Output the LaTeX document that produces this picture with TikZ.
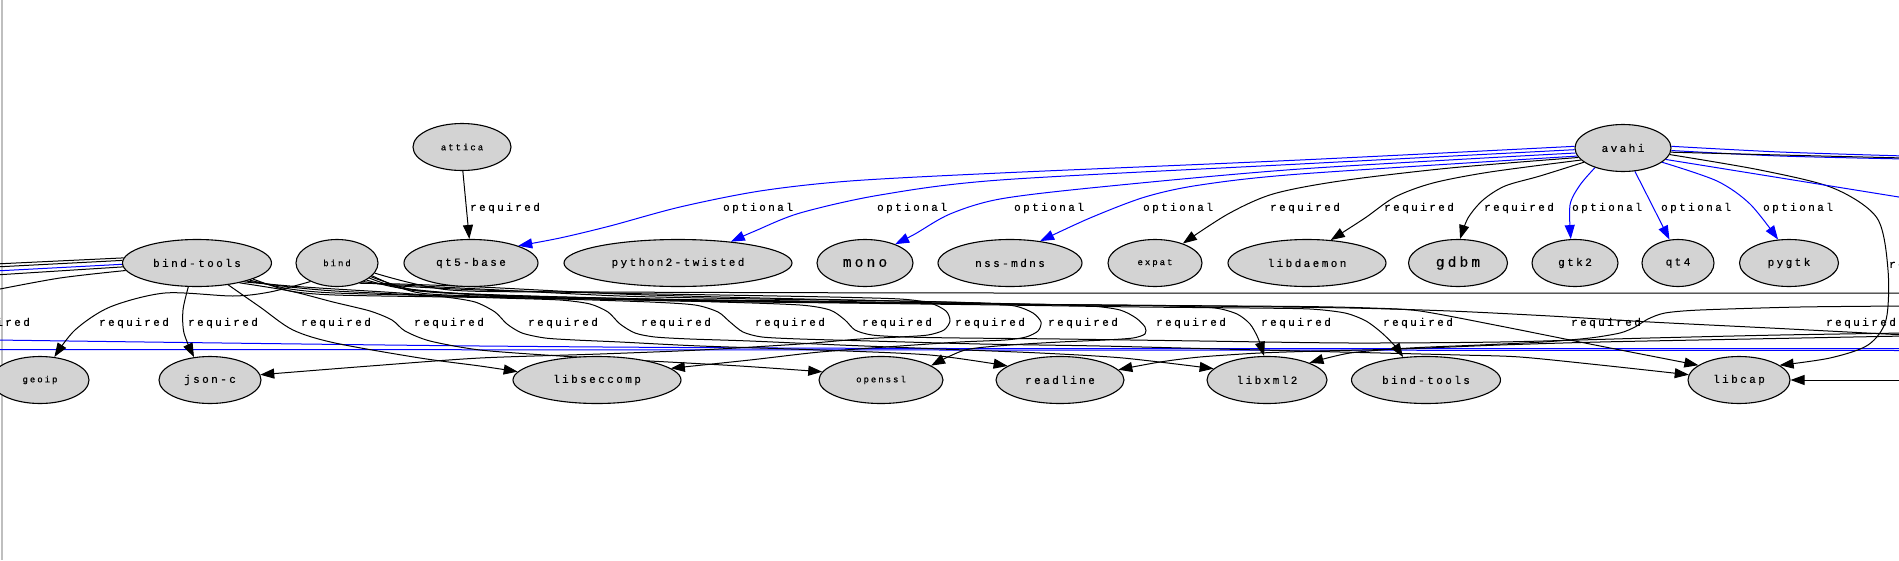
\documentclass[tikz,border=0pt]{standalone}
\usepackage{fontspec}
\usetikzlibrary{shapes.geometric,arrows.meta}
\newfontfamily\gvmono{Liberation Mono}[LetterSpace=22, FakeBold=0.4]
\newcommand\fnorm{\gvmono\fontsize{11}{13}\selectfont}
\newcommand\fsmall{\gvmono\fontsize{9}{11}\selectfont}
\newcommand\flarge{\gvmono\fontsize{14.5}{17}\selectfont}
\definecolor{lgray}{HTML}{D3D3D3}
\definecolor{gvblue}{RGB}{0,0,255}
\pgfdeclarelayer{bg}
\pgfsetlayers{bg,main}
\tikzset{
  pkg/.style={ellipse, draw=black, fill=lgray, line width=1.1pt, inner sep=0pt, minimum height=47pt, font=\fnorm},
  req/.style={draw=black, line width=1pt, -{Triangle[length=14pt,width=10pt]}},
  opt/.style={draw=gvblue, line width=1pt, -{Triangle[length=14pt,width=10pt]}},
  reqn/.style={draw=black, line width=1pt},
  optn/.style={draw=gvblue, line width=1pt},
  lbl/.style={font=\fnorm, inner sep=0pt}
}
\begin{document}
\begin{tikzpicture}[x=1pt,y=-1pt]
\useasboundingbox (0,0) rectangle (1899,560);
% nodes
\node[pkg, font=\fsmall, minimum width=98pt] (attica) at (462,147) {attica};
\node[pkg, minimum width=96pt] (avahi) at (1623,148) {avahi};
\node[pkg, minimum width=149pt] (bt) at (197,263) {bind-tools};
\node[pkg, font=\fsmall, minimum width=82pt] (bind) at (337,263) {bind};
\node[pkg, minimum width=134pt] (qtfive) at (471,263) {qt5-base};
\node[pkg, minimum width=228pt] (pytw) at (678,263) {python2-twisted};
\node[pkg, font=\flarge, minimum width=96pt] (mono) at (865,263) {mono};
\node[pkg, minimum width=144pt] (nss) at (1010,263) {nss-mdns};
\node[pkg, font=\fsmall, minimum width=94pt] (expat) at (1155,263) {expat};
\node[pkg, minimum width=158pt] (libd) at (1307,263) {libdaemon};
\node[pkg, font=\flarge, minimum width=99pt] (gdbm) at (1458,263) {gdbm};
\node[pkg, minimum width=86pt] (gtk) at (1575,263) {gtk2};
\node[pkg, minimum width=72pt] (qtfour) at (1678,263) {qt4};
\node[pkg, minimum width=99pt] (pygtk) at (1789,263) {pygtk};
\node[pkg, font=\fsmall, minimum width=98pt] (geoip) at (40,380) {geoip};
\node[pkg, minimum width=102pt] (jsonc) at (210,380) {json-c};
\node[pkg, minimum width=168pt] (seccomp) at (597,380) {libseccomp};
\node[pkg, font=\fsmall, minimum width=124pt] (openssl) at (881,380) {openssl};
\node[pkg, minimum width=128pt] (readline) at (1060,380) {readline};
\node[pkg, minimum width=120pt] (xml) at (1267,380) {libxml2};
\node[pkg, minimum width=149pt] (btwo) at (1426,380) {bind-tools};
\node[pkg, minimum width=102pt] (libcap) at (1739,380) {libcap};
% off-picture ends
\coordinate (offLa) at (-5,264);
\coordinate (offLb) at (-5,267);
\coordinate (offLc) at (-5,271);
\coordinate (offLd) at (-5,275);
\coordinate (offLe) at (-5,290);
\coordinate (offRa) at (1905,293);
\coordinate (offRb) at (1905,306);
\coordinate (offRc) at (1905,333);
\coordinate (offRd) at (1905,336);
\coordinate (offRe) at (1905,335);
\coordinate (offRf) at (1905,380);
\coordinate (offAa) at (1905,156);
\coordinate (offAb) at (1905,159);
\coordinate (offAc) at (1905,158);
\coordinate (offAd) at (1905,198);
\coordinate (offBa) at (-5,340);
\coordinate (offBb) at (1905,348.5);
\coordinate (offBc) at (-5,349.5);
\coordinate (offBd) at (1905,350.5);
% labels
\node[lbl] (la1) at (505,208) {required};
\node[lbl] (la2) at (758,208) {optional};
\node[lbl] (la3) at (912,208) {optional};
\node[lbl] (la4) at (1049,208) {optional};
\node[lbl] (la5) at (1178,208) {optional};
\node[lbl] (la6) at (1305,208) {required};
\node[lbl] (la7) at (1419,208) {required};
\node[lbl] (la8) at (1519,208) {required};
\node[lbl] (la9) at (1607,208) {optional};
\node[lbl] (la10) at (1696,208) {optional};
\node[lbl] (la11) at (1798,208) {optional};
\node[lbl] (la12) at (1924,265) {required};
\foreach \lx [count=\i] in {-5,134,223,336,449,563,676,790,897,990,1083,1191,1296,1418,1606,1861}
  \node[lbl] (lm\i) at (\lx,323) {required};
\begin{pgfonlayer}{bg}
\fill[white] (0,0) rectangle (1899,560);
\draw[line width=2pt, color=black!25] (1.5,0) -- (1.5,560);
% blue through-lines
\draw[optn] plot[smooth] coordinates {(offBa) (480,346) (950,348.5) (offBb)};
\draw[optn] (offBc) -- (offBd);
% attica
\draw[req] (attica.272) -- (qtfive.94);
% avahi edges
\draw[opt] plot[smooth] coordinates {(avahi.178) (1300,160) (1000,173) (850,181) (760,191) (680,207) (610,226) (560,238) (qtfive.20)};
\draw[opt] plot[smooth] coordinates {(avahi.182) (1300,164) (1000,180) (880,195) (800,213) (755,231) (pytw.22)};
\draw[opt] plot[smooth] coordinates {(avahi.186) (1300,169) (1100,187) (1000,199) (950,214) (915,234) (mono.32)};
\draw[opt] plot[smooth] coordinates {(avahi.190) (1300,174) (1200,185) (1145,197) (1090,218) (nss.36)};
\draw[req] plot[smooth] coordinates {(avahi.192) (1450,168) (1340,181) (1273,194) (1228,214) (expat.35)};
\draw[req] plot[smooth] coordinates {(avahi.196) (1490,172) (1433,183) (1395,197) (1365,218) (libd.44)};
\draw[req] plot[smooth] coordinates {(avahi.200) (1540,176) (1505,186) (1483,200) (1468,218) (gdbm.85)};
\draw[opt] plot[smooth] coordinates {(avahi.215) (1580,185) (1570,205) (gtk.100)};
\draw[opt] plot[smooth] coordinates {(avahi.297) (1652,205) (qtfour.110)};
\draw[opt] plot[smooth] coordinates {(avahi.340) (1717,181) (1750,204) (pygtk.115)};
\draw[req] plot[smooth] coordinates {(avahi.352) (1760,170) (1833,188) (1877,218) (1888,270) (1886,320) (1868,345) (1830,358) (libcap.20)};
\draw[optn] plot[smooth] coordinates {(avahi.2) (1780,152) (offAa)};
\draw[optn] plot[smooth] coordinates {(avahi.357) (1780,156) (offAb)};
\draw[reqn] plot[smooth] coordinates {(avahi.355) (1780,155) (offAc)};
\draw[optn] (avahi.345) -- (offAd);
% bind-tools to the left
\draw[reqn] (bt.176) -- (offLa);
\draw[reqn] (bt.178) -- (offLb);
\draw[optn] (bt.181) -- (offLc);
\draw[reqn] (bt.183) -- (offLd);
\draw[reqn] plot[smooth] coordinates {(bt.186) (60,278) (offLe)};
% bind-tools edges
\draw[req] plot[smooth] coordinates {(bt.250) (183,310) (184,333) (jsonc.125)};
\draw[req] plot[smooth] coordinates {(bt.325) (260,307) (293,330) (335,343) (420,358) (480,366) (seccomp.174)};
\draw[req] plot[smooth, tension=0.45] coordinates {(bt.335) (290,291) (333,302) (370,311) (392,320) (405,331) (430,341) (480,350) (560,356) (650,361) (740,366) (openssl.172)};
\draw[req] plot[smooth, tension=0.45] coordinates {(bt.338) (290,286) (335,289) (400,293) (445,297) (475,302) (495,312) (507,324) (522,333) (545,338) (575,340) (620,342) (700,346) (820,350) (930,355) (readline.165)};
\draw[req] plot[smooth, tension=0.45] coordinates {(bt.340) (290,287) (335,291) (420,295) (500,298) (560,300) (590,304) (608,312) (620,324) (635,333) (655,337) (690,339) (750,341) (840,345) (940,349) (1040,353) (1123,358) (xml.168)};
\draw[req] plot[smooth, tension=0.45] coordinates {(bt.342) (290,289) (335,293) (450,296) (560,299) (650,302) (695,305) (718,312) (730,322) (743,332) (762,337) (800,339) (870,341) (980,344) (1100,346) (1220,349) (1340,352) (1460,355) (1520,357) (1600,365) (libcap.174)};
\draw[reqn] plot[smooth, tension=0.45] coordinates {(bt.344) (290,291) (335,295) (450,297) (600,299) (800,302) (1000,304) (1200,306) (1350,308) (1450,311) (1550,316) (1650,322) (1770,328) (offRe)};
% bind edges
\draw[req] plot[smooth] coordinates {(bind.215) (270,292) (233,296) (165,293) (110,307) (75,330) (geoip.58)};
\draw[reqn] plot[smooth, tension=0.45] coordinates {(bind.330) (400,288) (480,295) (600,299) (720,302) (800,305) (830,310) (845,320) (855,330) (872,335) (905,337) (960,338) (1060,339) (1200,341) (1350,343) (1500,342) (1650,338) (1780,335) (offRc)};
\draw[req] plot[smooth, tension=0.45] coordinates {(bind.325) (400,286) (480,290) (600,293) (720,295) (830,297) (900,299) (930,303) (946,311) (950,321) (944,330) (928,335) (900,337) (860,339) (800,344) (700,350) (600,354) (480,358) (370,366) (jsonc.6)};
\draw[req] plot[smooth, tension=0.45] coordinates {(bind.320) (400,285) (480,289) (620,296) (760,299) (900,301) (980,303) (1015,306) (1033,313) (1041,322) (1038,331) (1026,337) (1005,340) (960,342) (900,346) (820,352) (750,360) (seccomp.9)};
\draw[req] plot[smooth, tension=0.45] coordinates {(bind.318) (400,284) (480,287) (620,294) (760,298) (900,301) (1020,304) (1090,306) (1120,310) (1136,318) (1145,327) (1145,334) (1133,338) (1105,340) (1060,342) (1010,345) (965,350) (openssl.16)};
\draw[req] plot[smooth, tension=0.45] coordinates {(bind.335) (410,290) (500,295) (650,299) (800,301) (950,303) (1080,305) (1170,306) (1215,308) (1237,314) (1250,324) (1258,338) (xml.97)};
\draw[req] plot[smooth, tension=0.45] coordinates {(bind.340) (420,293) (520,297) (680,301) (840,303) (1000,305) (1140,307) (1250,308) (1310,309) (1345,313) (1366,321) (1382,333) (1395,346) (btwo.135)};
\draw[req] plot[smooth, tension=0.45] coordinates {(bind.338) (420,291) (520,296) (700,300) (900,303) (1100,305) (1300,306.5) (1370,308) (1420,311) (1500,326) (1600,346) (libcap.160)};
\draw[reqn] plot[smooth, tension=0.45] coordinates {(bind.345) (450,290) (600,292) (1000,293) (offRa)};
% edges from off-picture nodes
\draw[req] plot[smooth, tension=0.45] coordinates {(offRb) (1800,307) (1700,310) (1665,313) (1648,319) (1635,327) (1620,333) (1590,338) (1543,342) (1480,345) (1410,348) (1350,353) (xml.22)};
\draw[req] plot[smooth, tension=0.45] coordinates {(offRd) (1750,339) (1600,342) (1500,345) (1400,349) (1320,351) (1260,353) (1200,357) (1160,362) (readline.10)};
\draw[req] (offRf) -- (libcap.0);
\end{pgfonlayer}
\end{tikzpicture}
\end{document}
